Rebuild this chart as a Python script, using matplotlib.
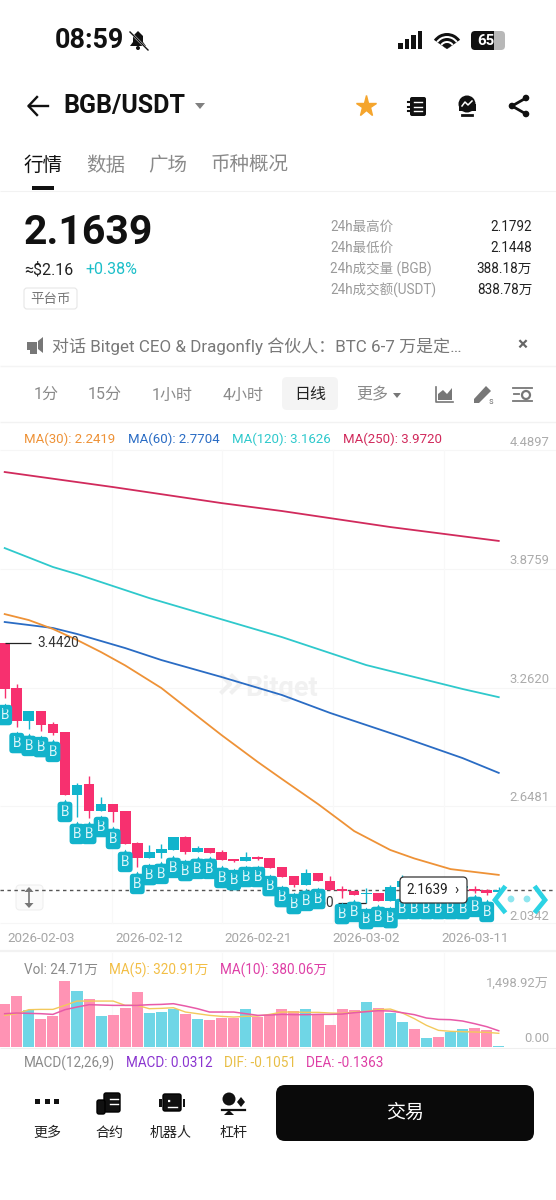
import matplotlib
matplotlib.use("Agg")
import matplotlib.pyplot as plt
from matplotlib.patches import FancyBboxPatch, Rectangle, Circle, Polygon, Wedge

plt.rcParams['font.family'] = ['Roboto', 'Noto Sans CJK SC', 'DejaVu Sans']

# ---------- data ----------
opens  = [3.442,3.210,3.039,3.091,3.023,2.982,2.656,2.713,2.573,2.609,2.573,2.407,2.329,2.355,2.371,2.438,2.361,2.381,2.361,2.324,2.314,
          2.335,2.329,2.283,2.236,2.190,2.252,2.210,2.169,2.158,2.143,2.148,2.107,2.179,2.205,2.180,2.190,2.170,2.175,2.169,2.166,2.155]
closes = [3.205,3.039,3.091,3.018,2.977,2.656,2.708,2.573,2.609,2.568,2.402,2.329,2.361,2.376,2.438,2.361,2.381,2.355,2.319,2.314,2.335,
          2.324,2.278,2.231,2.190,2.252,2.210,2.164,2.158,2.138,2.148,2.107,2.179,2.210,2.180,2.190,2.170,2.180,2.185,2.158,2.146,2.1639]
highs  = [3.442,3.231,3.091,3.091,3.034,2.982,2.718,2.754,2.645,2.609,2.573,2.412,2.397,2.402,2.438,2.443,2.392,2.381,2.371,2.324,2.361,
          2.340,2.329,2.283,2.236,2.273,2.252,2.236,2.184,2.158,2.174,2.148,2.190,2.241,2.210,2.195,2.195,2.185,2.190,2.184,2.168,2.1792]
lows   = [3.158,3.008,2.998,2.987,2.966,2.656,2.542,2.537,2.573,2.516,2.402,2.283,2.329,2.329,2.371,2.350,2.361,2.355,2.319,2.309,2.314,
          2.319,2.278,2.231,2.179,2.190,2.210,2.164,2.122,2.138,2.096,2.107,2.107,2.179,2.175,2.175,2.165,2.165,2.170,2.150,2.140,2.1448]
b_tags = [3.070,2.925,2.910,2.904,2.879,2.568,2.454,2.454,2.490,2.428,2.309,2.195,2.241,2.247,2.278,2.262,2.273,2.273,2.226,2.215,2.231,
          2.231,2.184,2.127,2.091,2.107,2.117,None,2.039,2.050,2.013,2.024,2.018,2.065,2.065,2.065,2.065,2.065,2.065,2.076,2.050]

ma30_i = [0,2,4,6,8,10,13,15,18,21,23,26,28,29,32,34,37,41]
ma30   = [3.593,3.562,3.516,3.459,3.396,3.327,3.210,3.112,2.966,2.827,2.739,2.609,2.516,2.469,2.371,2.327,2.272,2.2419]
ma60_i = [0,4,6,10,13,18,23,27,33,38,41]
ma60   = [3.552,3.521,3.490,3.417,3.355,3.267,3.174,3.081,2.956,2.847,2.7704]
ma120_i = [0,4,6,12,23,30,38,41]
ma120   = [3.935,3.837,3.800,3.676,3.474,3.329,3.205,3.1626]
ma250_i = [0,9,18,23,32,41]
ma250   = [4.329,4.251,4.168,4.127,4.044,3.972]

volumes = [998,1186,858,663,718,1544,1303,1131,718,741,913,1287,796,819,881,780,663,624,679,686,897,702,741,889,
           842,889,780,523,889,866,1061,905,803,577,413,218,234,359,413,452,390,24.71]
vol_ma5 = [741,780,874,881,881,975,1076,1076,1076,1076,975,975,897,905,920,819,780,741,718,702,718,725,764,819,
           819,811,811,796,788,819,835,874,889,796,663,507,390,367,359,351,343,320.91]
vol_ma10 = [780,796,788,780,764,874,936,991,983,975,975,975,991,998,1014,959,897,819,819,819,780,741,749,764,
            757,757,764,764,772,803,827,850,842,803,757,679,647,640,608,546,476,380.06]

price_ticks = [4.4897,3.8759,3.2620,2.6481,2.0342]
date_idx = [3,12,21,30,39]
date_labels = ['2026-02-03','2026-02-12','2026-02-21','2026-03-02','2026-03-11']
vol_top_tick = 1498.92
last_price = 2.1639
high_price = 3.4420
low_price = 2.0960

# ---------- layout & helpers ----------
W, H = 556, 1200
PINK, TEAL = '#F7306F', '#10B4CC'
VPINK, VTEAL = '#FF93B4', '#6FD6E6'
ORANGE, BLUE, CYAN, CRIM = '#EE9237', '#2A6CC4', '#2FC9CC', '#D12A5C'
GOLD, MAG = '#F3C95C', '#DE3FA6'

fig = plt.figure(figsize=(W/100, H/100), dpi=100, facecolor='white')

def full_ax(z):
    a = fig.add_axes([0, 0, 1, 1], zorder=z)
    a.set_xlim(0, W); a.set_ylim(H, 0); a.axis('off')
    a.patch.set_alpha(0)
    return a

bg = full_ax(0)
top = full_ax(5)

def T(a, x, y, s, px, color='black', ha='left', va='center', weight='normal', **k):
    return a.text(x, y, s, fontsize=px*0.72, color=color, ha=ha, va=va, fontweight=weight, **k)

def box(a, x0, y0, x1, y1, r, fc, ec='none', lw=0, z=1):
    p = FancyBboxPatch((x0+r, y0+r), x1-x0-2*r, y1-y0-2*r, boxstyle=f'round,pad={r},rounding_size={r}',
                       fc=fc, ec=ec, lw=lw, zorder=z)
    a.add_patch(p)
    return p

def hline(a, y, c='#F3F3F3', lw=1.0, x0=0, x1=W):
    a.plot([x0, x1], [y, y], color=c, lw=lw, solid_capstyle='butt')

# ---------- status bar ----------
T(bg, 55, 41, '08:59', 27, color='#111111', weight='bold')
bg.add_patch(Polygon([(130, 46), (133, 42), (133, 36), (138, 31), (143, 36), (143, 42), (146, 46)], fc='#111'))
bg.add_patch(Circle((138, 48), 2, fc='#111'))
bg.plot([129, 148], [31, 50], color='white', lw=1.6)
bg.plot([130, 148], [32, 50], color='#111', lw=1.0)
for i, h in enumerate([6, 10, 14, 18]):
    bg.add_patch(Rectangle((398 + i*6.6, 49 - h), 4.6, h, fc='#111'))
for r, c in [(16, '#111'), (13, 'white'), (11, '#111'), (8, 'white'), (6, '#111')]:
    bg.add_patch(Wedge((447, 49), r, 215 - 360, 325 - 360, fc=c, ec='none'))
bg.patches[-1].set_zorder(2)
box(bg, 471, 31, 493, 50, 4, '#111111')
box(bg, 490, 31, 505, 50, 4, '#B8B8B8')
bg.add_patch(Rectangle((490, 31), 4, 19, fc='#111111', zorder=1.2))
T(bg, 486, 41, '65', 15, color='white', ha='center', weight='bold', zorder=3)

# ---------- title bar ----------
bg.plot([29, 48], [106, 106], color='#111', lw=1.7)
bg.plot([37, 28.5, 37], [97, 106, 115], color='#111', lw=1.7)
T(bg, 63, 106, 'BGB/USDT', 25, color='#111', weight='bold')
bg.add_patch(Polygon([(195, 103), (205, 103), (200, 109)], fc='#808080'))
bg.plot([366], [106], marker='*', ms=15.5, color='#F5A52D', mec='#F5A52D')
box(bg, 410, 97, 426, 116, 2, '#111')
for yy in (102, 106.5, 111):
    bg.plot([408, 412], [yy, yy], color='#111', lw=1.5)
    bg.plot([414, 422], [yy, yy], color='white', lw=1.0)
bg.add_patch(Circle((467, 104), 8.5, fc='#111'))
bg.add_patch(Rectangle((458.5, 104), 17, 7, fc='#111'))
bg.plot([462, 465, 468, 472], [106, 102, 105, 101], color='white', lw=1.1)
bg.plot([462, 472], [115, 115], color='#111', lw=2)
bg.plot([526, 512, 526], [98, 106, 114], color='#111', lw=2)
for xy in ((526, 98), (512, 106), (526, 114)):
    bg.add_patch(Circle(xy, 3.3, fc='#111'))

# ---------- tabs ----------
T(bg, 24, 166, '行情', 19.5, color='#111', weight='medium')
T(bg, 86, 166, '数据', 19.5, color='#8A8A8A')
T(bg, 148, 166, '广场', 19.5, color='#8A8A8A')
T(bg, 211, 166, '币种概况', 19.5, color='#8A8A8A')
bg.add_patch(Rectangle((32, 186), 22, 3.5, fc='#111'))
hline(bg, 190.5, '#F2F2F2', 0.8)

# ---------- price block ----------
T(bg, 24, 233, '2.1639', 41, color='#111', weight='bold')
T(bg, 24, 270, '≈$2.16', 16, color='#222')
T(bg, 85, 270, '+0.38%', 16, color='#1CBFC9')
box(bg, 24, 288, 77, 309, 3, 'white', ec='#E6E6E6', lw=0.8)
T(bg, 50.5, 299, '平台币', 13.5, color='#777', ha='center')
for y, lab, val in zip([226, 247, 268, 289],
                       ['24h最高价', '24h最低价', '24h成交量 (BGB)', '24h成交额(USDT)'],
                       ['2.1792', '2.1448', '388.18万', '838.78万']):
    T(bg, 330, y + 1, lab, 13.5, color='#9A9A9A')
    T(bg, 532, y + 1, val, 13.5, color='#222', ha='right')

# ---------- notice ----------
bg.add_patch(Polygon([(27, 342), (37, 342), (37, 354), (30, 354), (30, 350), (27, 350)], fc='#777'))
bg.add_patch(Polygon([(38, 341), (43, 337), (43, 353), (38, 349)], fc='#777'))
T(bg, 52, 346, '对话 Bitget CEO & Dragonfly 合伙人：BTC 6-7 万是定…', 17, color='#787878')
T(bg, 522, 345, '×', 19, color='#666', ha='center', weight='bold')
hline(bg, 366, '#F4F4F4', 1.0)

# ---------- period row ----------
box(bg, 282, 377, 338, 410, 5, '#F4F4F4')
for x, s, c in [(46, '1分', '#8A8A8A'), (105, '15分', '#8A8A8A'), (172, '1小时', '#8A8A8A'),
                (243, '4小时', '#8A8A8A'), (310, '日线', '#222'), (372, '更多', '#8A8A8A')]:
    T(bg, x, 395, s, 16, color=c, ha='center')
bg.add_patch(Polygon([(393, 393), (401, 393), (397, 398)], fc='#777'))
bg.plot([436, 436, 453], [387, 402, 402], color='#777', lw=1.2)
bg.add_patch(Polygon([(438, 400), (438, 394), (443, 390), (447, 394), (452, 388), (452, 400)], fc='#777'))
bg.add_patch(Polygon([(474, 399), (486, 386), (491, 391), (479, 403), (474, 403)], fc='#777'))
T(bg, 491, 401, 's', 9, color='#777', ha='center')
for yy in (388, 401):
    bg.plot([513, 532], [yy, yy], color='#777', lw=1.3)
bg.plot([514, 519], [394, 394], color='#777', lw=1.3)
bg.add_patch(Circle((526, 395), 4, fc='white', ec='#777', lw=1.6))
hline(bg, 422, '#F2F2F2', 1.0)

# ---------- MA legend ----------
T(bg, 24, 439.5, 'MA(30): 2.2419', 13.2, color=ORANGE)
T(bg, 128, 439.5, 'MA(60): 2.7704', 13.2, color=BLUE)
T(bg, 232, 439.5, 'MA(120): 3.1626', 13.2, color=CYAN)
T(bg, 343, 439.5, 'MA(250): 3.9720', 13.2, color=CRIM)

# ---------- grid & watermark ----------
for y in (450, 569, 687.5, 806, 923):
    hline(bg, y, '#F6F6F6', 0.8)
for x in (112, 222, 333, 444):
    bg.plot([x, x], [450, 923], color='#F8F8F8', lw=0.8)
bg.plot([222, 230, 222], [676, 684, 692], color='#F0F0F0', lw=3)
bg.plot([232, 240, 232], [676, 684, 692], color='#F0F0F0', lw=3)
T(bg, 245, 689, 'Bitget', 27, color='#F1F1F1', weight='bold')

# ---------- price panel ----------
X0, DX = 4.7, 12.05          # pixel of first candle and candle spacing
def xlim_from_pixels():
    return (0 - X0)/DX, (W - X0)/DX
PERPX = (price_ticks[0] - price_ticks[-1]) / (915 - 441)
def price_at(y):
    return price_ticks[-1] + (915 - y)*PERPX

def panel(y0, y1, z=1):
    a = fig.add_axes([0, 1 - y1/H, 1, (y1 - y0)/H], zorder=z)
    a.patch.set_alpha(0)
    for s in a.spines.values():
        s.set_visible(False)
    a.set_xlim(*xlim_from_pixels())
    return a

ax = panel(425, 925)
ax.set_ylim(price_at(925), price_at(425))
idx = list(range(len(opens)))

ax.axhline(last_price, color='#555555', lw=1.0, dashes=(2.5, 2.5), zorder=1)
ax.plot(ma250_i, ma250, color=CRIM, lw=1.3, zorder=2)
ax.plot(ma120_i, ma120, color=CYAN, lw=1.3, zorder=2)
ax.plot(ma60_i, ma60, color=BLUE, lw=1.3, zorder=2)
ax.plot(ma30_i, ma30, color=ORANGE, lw=1.3, zorder=2)

for i, o, c, h, l in zip(idx, opens, closes, highs, lows):
    col = TEAL if c >= o else PINK
    ax.plot([i, i], [l, h], color=col, lw=1.0, zorder=3, solid_capstyle='butt')
    ax.bar(i, abs(c - o), bottom=min(o, c), width=0.88, color=col, zorder=3, lw=0)

# high / low callouts
ax.plot([0, 2.2], [high_price, high_price], color='#222', lw=0.9, zorder=4, solid_capstyle='butt')
ax.text(2.7, high_price, f'{high_price:.4f}', fontsize=13.5*0.72, color='#333', va='center', ha='left', zorder=4)
ax.plot([30, 27.7], [low_price, low_price], color='#222', lw=0.9, zorder=4, solid_capstyle='butt')
ax.text(27.3, low_price, f'{low_price:.4f}', fontsize=13.5*0.72, color='#333', va='center', ha='right', zorder=4)

# "B" buy tags
for i, p in zip(idx, b_tags):
    if p is None:
        continue
    ax.text(i, p, 'B', fontsize=13.5*0.72, color='#DDF6FA', ha='center', va='center', zorder=6,
            bbox=dict(boxstyle='round,pad=0.24,rounding_size=0.25', fc='#12B3CB', ec='none'))
    ax.plot([i], [p + 9.5*PERPX], marker='^', ms=5, color='#12B3CB', mec='none', zorder=6)

ax.yaxis.tick_right()
ax.set_yticks(price_ticks)
ax.set_yticklabels([f'{t:.4f}' for t in price_ticks], fontsize=13*0.72, color='#ABABAB')
for t in ax.get_yticklabels():
    t.set_ha('right')
ax.tick_params(axis='y', length=0, pad=-5)
ax.set_xticks(date_idx)
ax.set_xticklabels(date_labels, fontsize=13.4*0.72, color='#A6A6A6')
ax.tick_params(axis='x', length=0, pad=5)

# current-price label
box(top, 400, 877, 467, 903, 4, 'white', ec='#333333', lw=0.9, z=6)
T(top, 406, 890.5, f'{last_price:.4f}', 13.5, color='#222', zorder=7)
T(top, 457, 890, '›', 14, color='#222', ha='center', zorder=7)

# end-of-chart widget
for xs in ([504, 495, 504], [536, 545, 536]):
    top.plot(xs, [888, 900, 911], color='#2CD3E4', lw=3.4, solid_joinstyle='miter', zorder=6)
for x in (511, 527):
    top.add_patch(Circle((x, 899), 3.4, fc='#8FE6EF', zorder=6))

# scale toggle
box(bg, 16, 885, 43, 910, 4, '#FBFBFB', ec='#F0F0F0', lw=0.8)
top.plot([29, 29], [891, 905], color='#777', lw=1.2, zorder=6)
top.add_patch(Polygon([(24.5, 892), (33.5, 892), (29, 887)], fc='#777', zorder=6))
top.add_patch(Polygon([(24.5, 903), (33.5, 903), (29, 908)], fc='#777', zorder=6))

# ---------- volume panel ----------
hline(bg, 951, '#F2F2F2', 1.6)
T(bg, 24, 970, 'Vol: 24.71万', 13.5, color='#8A8A8A')
T(bg, 109, 970, 'MA(5): 320.91万', 13.5, color='#F2BE45')
T(bg, 220, 970, 'MA(10): 380.06万', 13.5, color=MAG)
for x in (112, 222, 333, 444):
    bg.plot([x, x], [953, 1047], color='#F8F8F8', lw=0.8)
hline(bg, 1047.5, '#EFEFEF', 0.8)

PERPX_V = vol_top_tick / (1047 - 983)
va = panel(975, 1047)
va.set_ylim(0, (1047 - 975)*PERPX_V)
bar_cols = [VTEAL if c >= o else VPINK for o, c in zip(opens, closes)]
va.bar(idx, volumes, width=0.92, color=bar_cols, lw=0, zorder=2)
va.plot(idx, vol_ma5, color=GOLD, lw=1.0, zorder=3)
va.plot(idx, vol_ma10, color='#E85AA8', lw=1.1, zorder=3)
va.yaxis.tick_right()
va.set_yticks([vol_top_tick])
va.set_yticklabels(['1,498.92万'], fontsize=13*0.72, color='#ABABAB')
for t in va.get_yticklabels():
    t.set_ha('right')
va.tick_params(axis='y', length=0, pad=-5)
va.set_xticks([])
T(bg, 549, 1038, '0.00', 13, color='#ABABAB', ha='right')

# ---------- MACD header ----------
T(bg, 24, 1063, 'MACD(12,26,9)', 13.5, color='#8A8A8A')
T(bg, 126, 1063, 'MACD: 0.0312', 13.5, color='#8A35D0')
T(bg, 224, 1063, 'DIF: -0.1051', 13.5, color='#E8BE45')
T(bg, 306, 1063, 'DEA: -0.1363', 13.5, color=MAG)
T(bg, 549, 1080, '0.0225', 13, color='#ABABAB', ha='right')

# ---------- bottom navigation ----------
top.add_patch(Rectangle((0, 1075), W, 125, fc='white', zorder=1))
for x in (37.5, 47, 56.5):
    top.add_patch(Rectangle((x - 2.5, 1099), 5, 5, fc='#111', zorder=2))
top.add_patch(FancyBboxPatch((104, 1093), 16, 19, boxstyle='round,pad=0,rounding_size=2', fc='#111', zorder=2))
top.add_patch(FancyBboxPatch((97, 1100), 8, 14, boxstyle='round,pad=0,rounding_size=2', fc='#111', zorder=2))
top.plot([110, 118], [1099, 1099], color='white', lw=1, zorder=3)
top.plot([110, 118], [1104, 1104], color='white', lw=1, zorder=3)
top.add_patch(FancyBboxPatch((163, 1094), 18, 17, boxstyle='round,pad=0,rounding_size=2', fc='#111', zorder=2))
top.add_patch(Rectangle((159, 1099), 2.5, 8, fc='#111', zorder=2))
top.add_patch(Rectangle((182.5, 1099), 2.5, 8, fc='#111', zorder=2))
top.plot([168, 177], [1107, 1107], color='white', lw=1, zorder=3)
top.plot([168, 176], [1101, 1101], color='white', lw=1.6, ls=(0, (1, 3)), zorder=3)
top.add_patch(Circle((229, 1099), 6.5, fc='#111', zorder=2))
top.add_patch(Polygon([(241, 1097), (245, 1102), (241, 1107), (237, 1102)], fc='#111', zorder=2))
top.plot([222, 245], [1110, 1110], color='#111', lw=1.6, zorder=2)
top.add_patch(Polygon([(229, 1110), (234, 1115), (224, 1115)], fc='#111', zorder=2))
for x, s in zip((47, 109, 171, 233), ('更多', '合约', '机器人', '杠杆')):
    T(top, x, 1133, s, 14, color='#222', ha='center', zorder=3)
box(top, 276, 1085, 534, 1141, 9, '#0A0A0A', z=2)
T(top, 405, 1113, '交易', 19, color='white', ha='center', zorder=3)

fig.savefig('out.png', dpi=100, facecolor='white')
